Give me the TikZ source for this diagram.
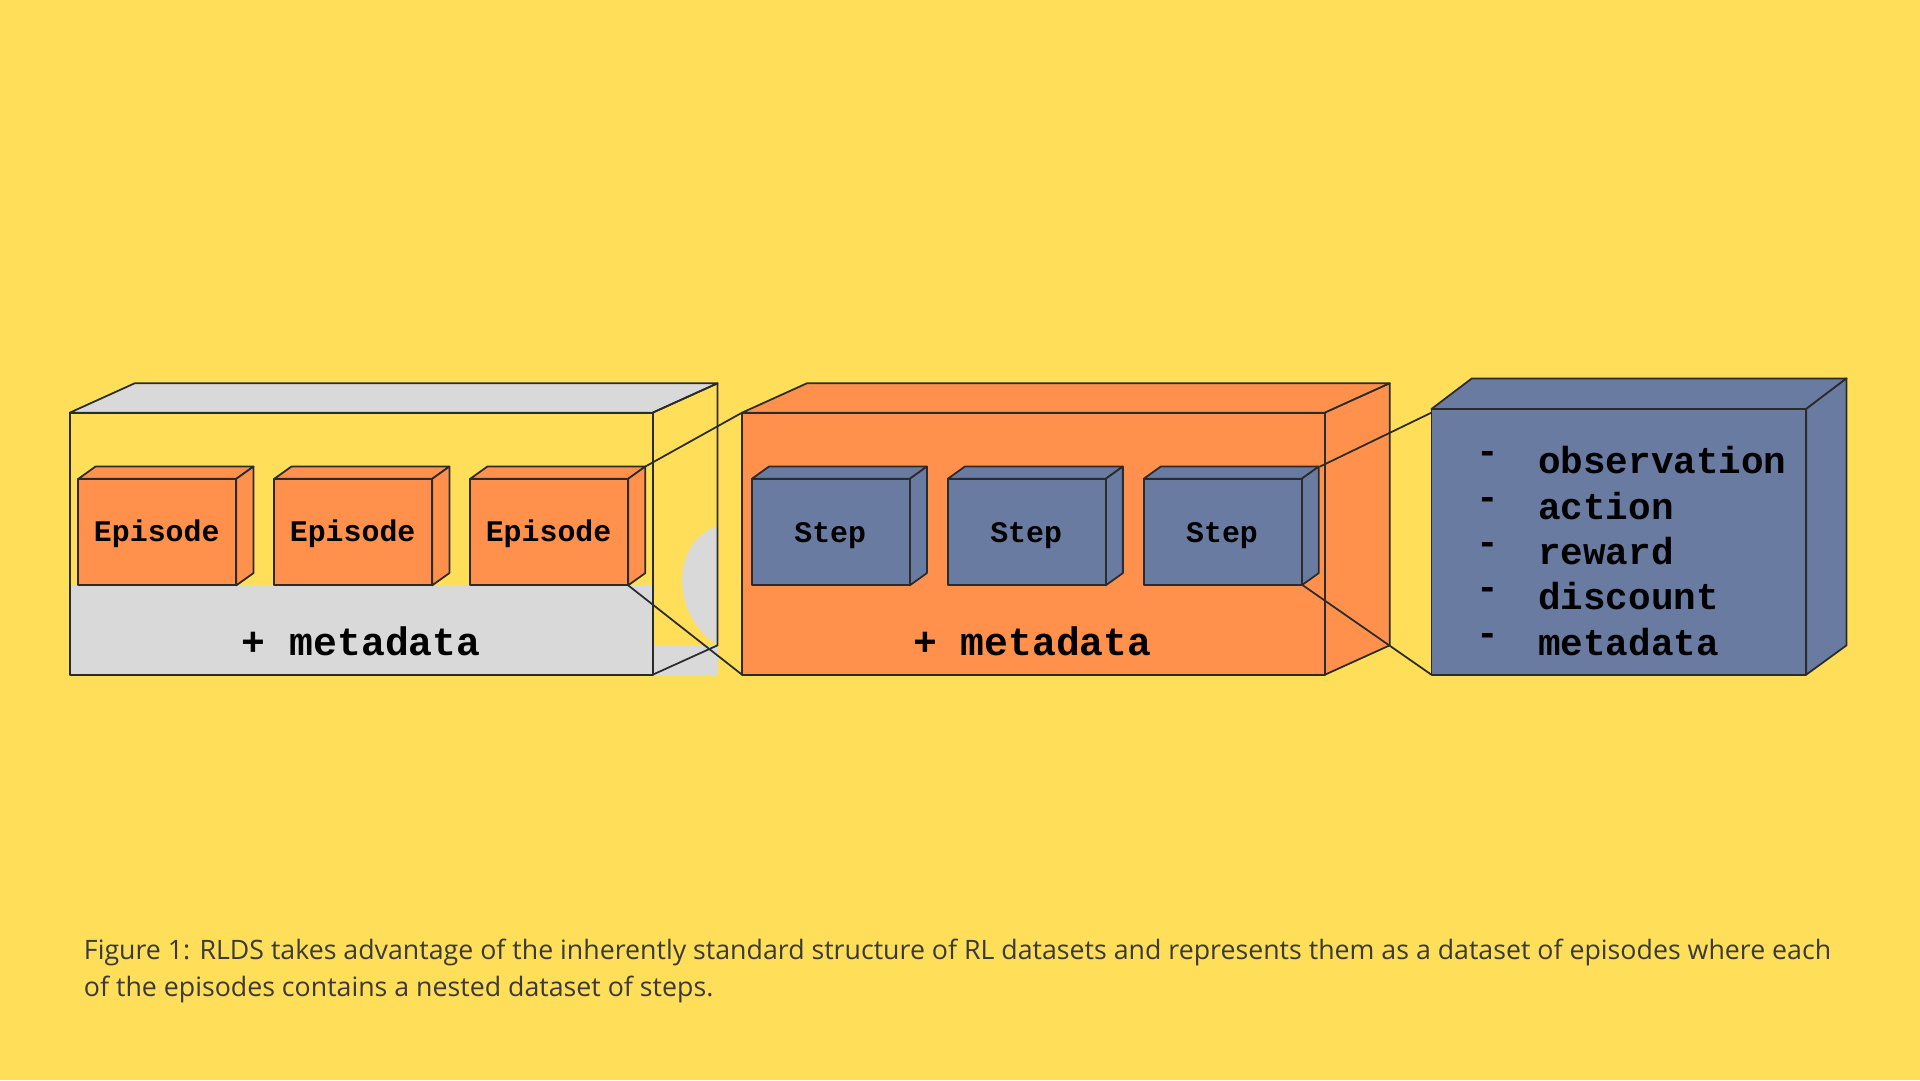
\documentclass[tikz,border=0pt]{standalone}
\usepackage{fontspec}
\setmainfont{Open Sans}
\newfontfamily\monofont{Liberation Mono}
\definecolor{bgyellow}{HTML}{FFDE59}
\definecolor{boxgrey}{HTML}{D9D9D9}
\definecolor{boxorange}{HTML}{FF914D}
\definecolor{boxblue}{HTML}{6A7BA2}
\definecolor{edge}{HTML}{2B2B2B}
\definecolor{captext}{HTML}{3A3A3A}
\usetikzlibrary{positioning}

\tikzset{
  face/.style={draw=edge, line width=0.5pt, line join=round},
  boxlabel/.style={font=\monofont\bfseries\fontsize{8.5}{10}\selectfont},
  metalabel/.style={font=\monofont\bfseries\fontsize{11.3}{13}\selectfont},
  listlabel/.style={font=\monofont\bfseries\fontsize{10.7}{12}\selectfont, anchor=west},
  link/.style={draw=edge, line width=0.5pt}
}

\begin{document}
\begin{tikzpicture}[x=0.012245cm, y=-0.012245cm]
  \useasboundingbox[fill=bgyellow] (0,0) rectangle (1568,882);

  % Dataset box (grey)
  \fill[boxgrey] (57,478) rectangle (533,551);
  \fill[boxgrey] (533,527) -- (586,527) -- (586,551) -- (533,551) -- cycle;
  \fill[boxgrey] (586,430) .. controls (550,440) and (545,500) .. (586,527) -- cycle;
  \draw[face, fill=boxgrey] (57,337) -- (110,313) -- (586,313) -- (533,337) -- cycle;
  \draw[face] (57,337) rectangle (533,551);
  \draw[face] (533,337) -- (586,313) -- (586,527) -- (533,551);
  \node[metalabel] (dmeta) at (295,524) {+ metadata};

  % Episode boxes
  \foreach \x/\n in {64/1, 224/2, 384/3} {
    \draw[face, fill=boxorange] (\x,391) -- (\x+14,381) -- (\x+143,381) -- (\x+129,391) -- cycle;
    \draw[face, fill=boxorange] (\x+129,391) -- (\x+143,381) -- (\x+143,468) -- (\x+129,478) -- cycle;
    \draw[face, fill=boxorange] (\x,391) rectangle (\x+129,478);
    \node[boxlabel] (ep\n) at (\x+64,436) {Episode};
  }

  % Episode box (orange)
  \draw[face, fill=boxorange] (606,337) -- (659,313) -- (1135,313) -- (1082,337) -- cycle;
  \draw[face, fill=boxorange] (1082,337) -- (1135,313) -- (1135,527) -- (1082,551) -- cycle;
  \draw[face, fill=boxorange] (606,337) rectangle (1082,551);
  \node[metalabel] (emeta) at (843,524) {+ metadata};

  % Step boxes
  \foreach \x/\n in {614/1, 774/2, 934/3} {
    \draw[face, fill=boxblue] (\x,391) -- (\x+14,381) -- (\x+143,381) -- (\x+129,391) -- cycle;
    \draw[face, fill=boxblue] (\x+129,391) -- (\x+143,381) -- (\x+143,468) -- (\x+129,478) -- cycle;
    \draw[face, fill=boxblue] (\x,391) rectangle (\x+129,478);
    \node[boxlabel] (st\n) at (\x+64,437) {Step};
  }

  % Step box (blue)
  \draw[face, fill=boxblue] (1169,334) -- (1202,309) -- (1508,309) -- (1475,334) -- cycle;
  \draw[face, fill=boxblue] (1475,334) -- (1508,309) -- (1508,527) -- (1475,551) -- cycle;
  \draw[face, fill=boxblue] (1169,334) rectangle (1475,551);
  \foreach \t [count=\i from 0] in {observation, action, reward, discount, metadata} {
    \node[listlabel] (dash\i) at (1196,374+37*\i) {-};
    \node[listlabel] (item\i) at (1246,376+37*\i) {\t};
  }

  % Zoom lines
  \coordinate (epA) at (527,381);
  \coordinate (epB) at (513,478);
  \coordinate (eboxA) at (606,337);
  \coordinate (eboxB) at (606,551);
  \coordinate (stA) at (1078,381);
  \coordinate (stB) at (1064,478);
  \coordinate (sboxA) at (1169,337);
  \coordinate (sboxB) at (1169,551);
  \draw[link] (epA) -- (eboxA);
  \draw[link] (epB) -- (eboxB);
  \draw[link] (stA) -- (sboxA);
  \draw[link] (stB) -- (sboxB);

  % Caption
  \node[anchor=north west, align=left, text=captext, font=\fontsize{7.6}{10.6}\selectfont, inner sep=0pt] (caption) at (68,766)
    {Figure 1: RLDS takes advantage of the inherently standard structure of RL datasets and represents them as a dataset of episodes where each\\
     of the episodes contains a nested dataset of steps.};
\end{tikzpicture}
\end{document}
